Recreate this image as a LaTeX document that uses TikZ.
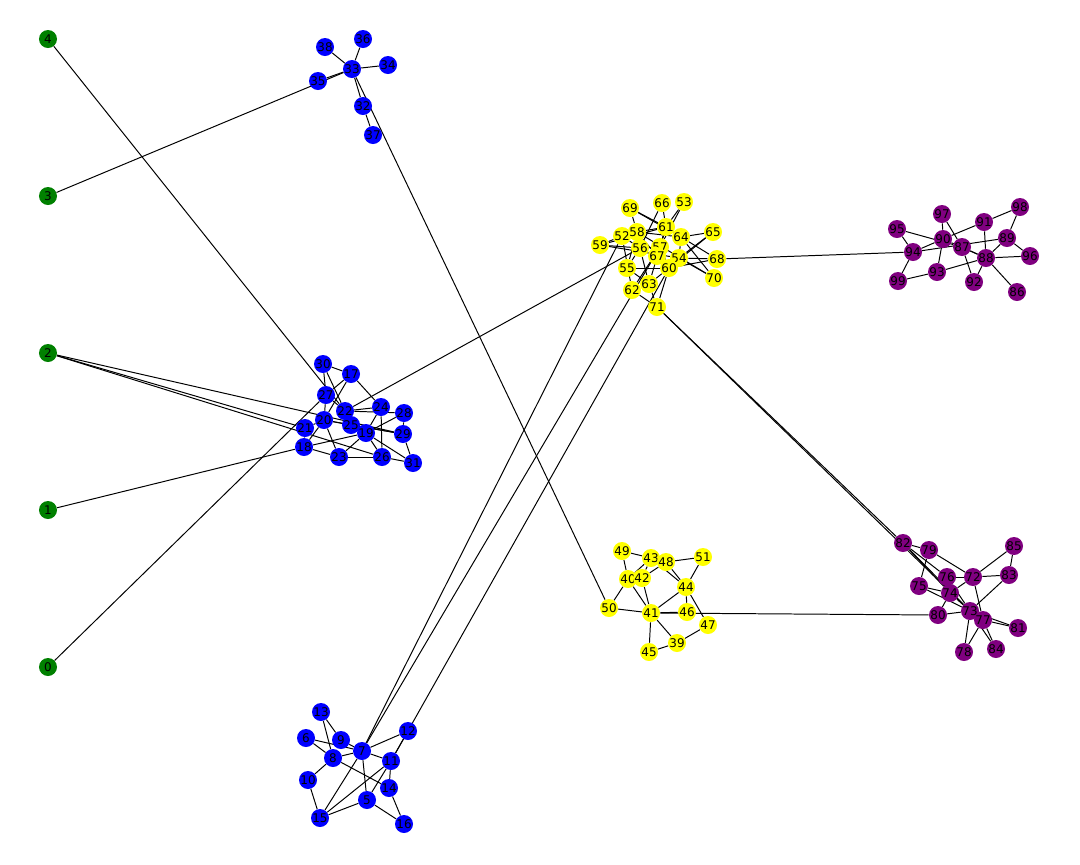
\documentclass[tikz,border=0pt]{standalone}
\usepackage{fontspec}
\setmainfont{DejaVu Sans}
\usetikzlibrary{backgrounds}
\definecolor{nxgreen}{RGB}{0,128,0}
\definecolor{nxblue}{RGB}{0,0,255}
\definecolor{nxyellow}{RGB}{255,255,0}
\definecolor{nxpurple}{RGB}{128,0,128}
\tikzset{
  line cap=round,
  line join=round,
  vertex/.style={circle, inner sep=0pt, minimum size=0.45cm, text=black,
    font=\fontsize{8.5}{10}\selectfont},
  link/.style={draw=black, line width=0.7pt}
}
\begin{document}
\begin{tikzpicture}[x=0.025cm, y=-0.025cm]
  \useasboundingbox (0,0) rectangle (1080,864);
  % outer nodes
  \foreach \i/\px/\py in {0/48/667, 1/48/510, 2/48/353, 3/48/196, 4/48/39}
    \node[vertex, fill=nxgreen] (n\i) at (\px,\py) {\i};
  % blue groups
  \foreach \i/\px/\py in {5/367/800, 6/306/738, 7/362/751, 8/333/758, 9/341/740,
      10/308/780, 11/391/761, 12/408/731, 13/321/712, 14/389/788, 15/320/818,
      16/404/824, 17/351/374, 18/304/447, 19/366/433, 20/324/420, 21/305/428,
      22/345/411, 23/339/457, 24/381/407, 25/351/425, 26/382/457, 27/326/395,
      28/404/413, 29/403/434, 30/323/364, 31/413/463, 32/363/106, 33/352/69,
      34/388/65, 35/318/81, 36/363/39, 37/373/135, 38/325/47}
    \node[vertex, fill=nxblue] (n\i) at (\px,\py) {\i};
  % yellow groups
  \foreach \i/\px/\py in {39/677/643, 40/628/579, 41/651/613, 42/642/578,
      43/651/558, 44/686/587, 45/649/652, 46/687/612, 47/708/625, 48/666/562,
      49/622/551, 50/609/608, 51/703/557, 52/622/236, 53/684/202, 54/679/258,
      55/627/268, 56/640/248, 57/660/247, 58/637/232, 59/600/245, 60/669/268,
      61/666/227, 62/632/290, 63/649/284, 64/681/237, 65/713/232, 66/662/203,
      67/657/256, 68/717/259, 69/630/208, 70/714/278, 71/657/307}
    \node[vertex, fill=nxyellow] (n\i) at (\px,\py) {\i};
  % purple groups
  \foreach \i/\px/\py in {72/973/577, 73/970/611, 74/950/593, 75/919/586,
      76/947/577, 77/983/620, 78/964/652, 79/929/550, 80/938/615, 81/1018/628,
      82/903/543, 83/1009/575, 84/996/649, 85/1014/546, 86/1017/292, 87/962/247,
      88/986/258, 89/1007/238, 90/943/239, 91/984/222, 92/974/282, 93/937/272,
      94/913/252, 95/897/229, 96/1030/256, 97/942/214, 98/1020/207, 99/898/281}
    \node[vertex, fill=nxpurple] (n\i) at (\px,\py) {\i};
  \begin{scope}[on background layer]
    \foreach \a/\b in {13/9, 13/8, 6/8, 6/7, 9/7, 8/7, 8/10, 8/14, 7/12, 7/11,
        7/5, 7/15, 12/11, 11/15, 11/14, 11/5, 14/16, 5/15, 5/16, 10/15,
        30/17, 30/27, 30/22, 17/27, 17/20, 17/24, 27/20, 27/22, 22/24, 22/19,
        22/28, 20/25, 20/21, 20/18, 20/23, 20/29, 21/18, 18/19, 18/23, 23/26,
        23/19, 19/24, 19/28, 19/26, 24/26, 28/29, 29/31, 26/31, 25/29, 19/31,
        33/36, 33/38, 33/34, 33/35, 33/32, 32/37,
        49/43, 49/40, 43/48, 43/42, 43/40, 43/44, 48/42, 48/51, 48/44, 51/44,
        40/50, 40/41, 42/41, 44/41, 44/46, 44/47, 50/41, 41/46, 41/39, 41/45,
        45/39, 39/47,
        69/58, 69/61, 69/64, 66/61, 66/56, 53/61, 53/57, 58/52, 58/61, 58/64,
        58/67, 58/55, 52/59, 52/56, 52/62, 59/56, 59/61, 59/54, 61/64, 61/57,
        61/67, 61/63, 64/65, 64/54, 64/70, 64/68, 65/54, 65/60, 68/54, 68/60,
        54/70, 54/60, 56/55, 56/63, 56/57, 57/60, 57/62, 55/60, 55/63, 63/60,
        63/71, 62/71, 67/60, 60/71, 58/70,
        97/90, 97/87, 98/91, 98/89, 91/90, 91/88, 95/94, 95/87, 90/94, 90/93,
        90/88, 87/92, 87/88, 94/89, 94/99, 93/99, 93/88, 88/89, 88/96, 88/86,
        88/92, 89/96,
        82/79, 82/76, 82/74, 82/73, 79/72, 79/75, 85/72, 85/83, 72/83, 72/76,
        72/74, 72/77, 83/73, 76/73, 76/74, 75/74, 75/73, 74/80, 74/73, 80/73,
        73/77, 73/78, 73/81, 77/81, 77/78, 77/84, 73/84,
        % links between groups
        0/27, 1/18, 2/21, 2/26, 2/29, 3/33, 4/22, 22/56, 33/50, 7/52, 7/57,
        11/60, 41/80, 68/94, 71/82, 71/73}
      \draw[link] (n\a) -- (n\b);
  \end{scope}
\end{tikzpicture}
\end{document}
